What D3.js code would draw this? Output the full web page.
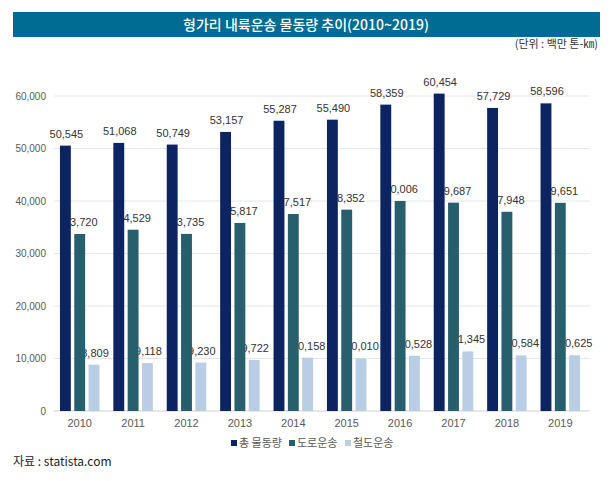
<!DOCTYPE html>
<html><head><meta charset="utf-8">
<script src="https://cdn.jsdelivr.net/npm/d3@7/dist/d3.min.js"></script>
<style>
html,body{margin:0;padding:0;background:#fff;}
svg{display:block;}
</style>
</head><body>
<svg id="chart" width="612" height="481"></svg>
<script>
const years = ["2010","2011","2012","2013","2014","2015","2016","2017","2018","2019"];
const seriesNames = ["총 물동량","도로운송","철도운송"];
const total = [50545,51068,50749,53157,55287,55490,58359,60454,57729,58596];
const road  = [33720,34529,33735,35817,37517,38352,40006,39687,37948,39651];
const rail  = [8809,9118,9230,9722,10158,10010,10528,11345,10584,10625];
const yTicks = [0,10000,20000,30000,40000,50000,60000];
const colors = ["#0c2461","#285f6c","#b9cde4"];

const svg = d3.select("#chart");
const numFont = "'Liberation Sans', Arial, sans-serif";
const krFont = "'Noto Sans CJK KR', sans-serif";

// title bar
svg.append("rect").attr("x",13).attr("y",12).attr("width",587).attr("height",25).attr("fill","#006b93");
svg.append("text").attr("x",306).attr("y",30).attr("text-anchor","middle")
  .attr("fill","#fff").attr("font-family",krFont).attr("font-size",14).attr("font-weight",500)
  .text("형가리 내륙운송 물동량 추이(2010~2019)");
svg.append("text").attr("x",598).attr("y",48).attr("text-anchor","end")
  .attr("fill","#333").attr("font-family",krFont).attr("font-size",11)
  .text("(단위 : 백만 톤-㎞)");

const y = d3.scaleLinear().domain([0,60000]).range([411,96]);
const x = d3.scaleBand().domain(years).range([53,587]).paddingInner(0.26).paddingOuter(0.13);
const xs = d3.scaleBand().domain(d3.range(3)).range([0,x.bandwidth()]).paddingInner(0.24);

// gridlines
svg.append("g").selectAll("line").data(yTicks).join("line")
  .attr("x1",54).attr("x2",590).attr("y1",d=>y(d)).attr("y2",d=>y(d))
  .attr("stroke",d=>d===0?"#d0d0d0":"#e6e6e6").attr("stroke-width",1);

// y axis labels
const yAxis = d3.axisLeft(y).tickValues(yTicks).tickSize(0).tickPadding(0).tickFormat(d3.format(","));
const ga = svg.append("g").attr("transform","translate(46,0)").call(yAxis);
ga.select(".domain").remove();
ga.selectAll("text").attr("font-family",numFont).attr("font-size",10).attr("fill","#595959");

// x axis labels
const xAxis = d3.axisBottom(x).tickSize(0).tickPadding(0);
const gx = svg.append("g").attr("transform","translate(0,419)").call(xAxis);
gx.select(".domain").remove();
gx.selectAll("text").attr("font-family",numFont).attr("font-size",11).attr("fill","#595959");

const data = [total, road, rail];
const flat = [];
data.forEach((arr,si)=>arr.forEach((v,i)=>flat.push({si, year:years[i], v})));

// labels first (bars overlap them as in reference)
svg.append("g").selectAll("text").data(flat).join("text")
  .attr("x",d=>x(d.year)+xs(d.si)+xs.bandwidth()/2+1)
  .attr("y",d=>y(d.v)-8)
  .attr("text-anchor","middle")
  .attr("font-family",numFont).attr("font-size",11).attr("fill","#333")
  .text(d=>d3.format(",")(d.v));

svg.append("g").selectAll("rect").data(flat).join("rect")
  .attr("x",d=>x(d.year)+xs(d.si))
  .attr("y",d=>y(d.v))
  .attr("width",xs.bandwidth())
  .attr("height",d=>y(0)-y(d.v))
  .attr("fill",d=>colors[d.si]);

// legend
const legX = [231,289,345];
const leg = svg.append("g");
seriesNames.forEach((n,i)=>{
  leg.append("rect").attr("x",legX[i]).attr("y",440).attr("width",6).attr("height",6).attr("fill",colors[i]);
  leg.append("text").attr("x",legX[i]+8).attr("y",447).attr("font-family",krFont).attr("font-size",11)
    .attr("fill","#595959").text(n);
});

svg.append("text").attr("x",13).attr("y",466).attr("font-family",krFont).attr("font-size",12)
  .attr("fill","#222").text("자료 : statista.com");
</script>
</body></html>
